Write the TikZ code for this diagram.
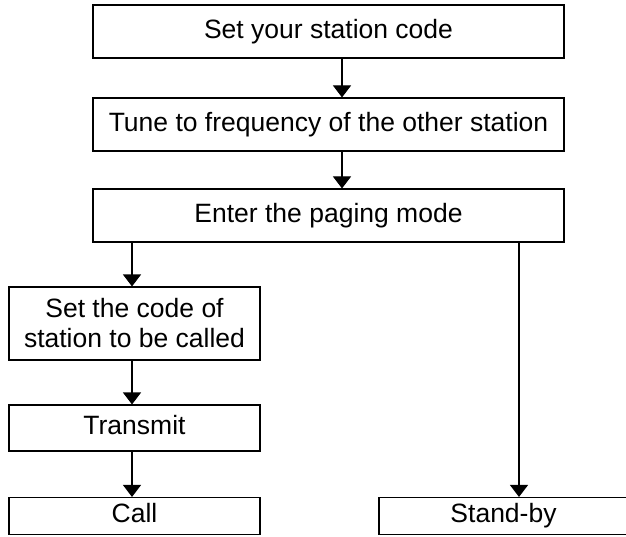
\documentclass[tikz,border=0pt]{standalone}
\usepackage{fontspec}
\setmainfont{Liberation Sans}
\usepackage{tikz}
\usetikzlibrary{positioning, arrows.meta}

\tikzset{
  stepnode/.style={draw, line width=1.1pt, rectangle, inner sep=0pt,
    align=center, text height=19pt, text depth=5.5pt,
    font=\fontsize{26.5}{30}\selectfont},
  flow/.style={line width=1.1pt, -{Triangle[length=12pt,width=18pt]}}
}

\begin{document}
\begin{tikzpicture}[x=1pt, y=-1pt]
       \useasboundingbox (0,0) rectangle (626,537);
       % top row, one after the other
       \node[stepnode, minimum width=471pt, minimum height=53pt] (code) at (328.5,31.5) {Set your station code};
       \node[stepnode, minimum width=471pt, minimum height=53pt] (tune) at (328.5,124.5) {Tune to frequency of the other station};
       \node[stepnode, minimum width=471pt, minimum height=53pt] (paging) at (328.5,215.5) {Enter the paging mode};
       % left branch
       \node[stepnode, text height=, text depth=, minimum width=251pt, minimum height=73pt] (callee) at (134.5,323.5) {Set the code of\\station to be called};
       \node[stepnode, minimum width=251pt, minimum height=46pt] (transmit) at (134.5,428) {Transmit};
       \node[stepnode, minimum width=251pt, minimum height=37pt] (call) at (134.5,516) {Call};
       % right branch
       \node[stepnode, minimum width=249pt, minimum height=37pt] (standby) at (503.5,516) {Stand-by};

       \draw[flow] ([xshift=13.5pt]code.south) -- ([xshift=13.5pt]tune.north);
       \draw[flow] ([xshift=13.5pt]tune.south) -- ([xshift=13.5pt]paging.north);
       \draw[flow] ([xshift=-2.5pt]callee.north |- paging.south) -- ([xshift=-2.5pt]callee.north);
       \draw[flow] ([xshift=-2.5pt]callee.south) -- ([xshift=-2.5pt]transmit.north);
       \draw[flow] ([xshift=-2.5pt]transmit.south) -- ([xshift=-2.5pt]call.north);
       \draw[flow] ([xshift=15.5pt]standby.north |- paging.south) -- ([xshift=15.5pt]standby.north);
\end{tikzpicture}
\end{document}
